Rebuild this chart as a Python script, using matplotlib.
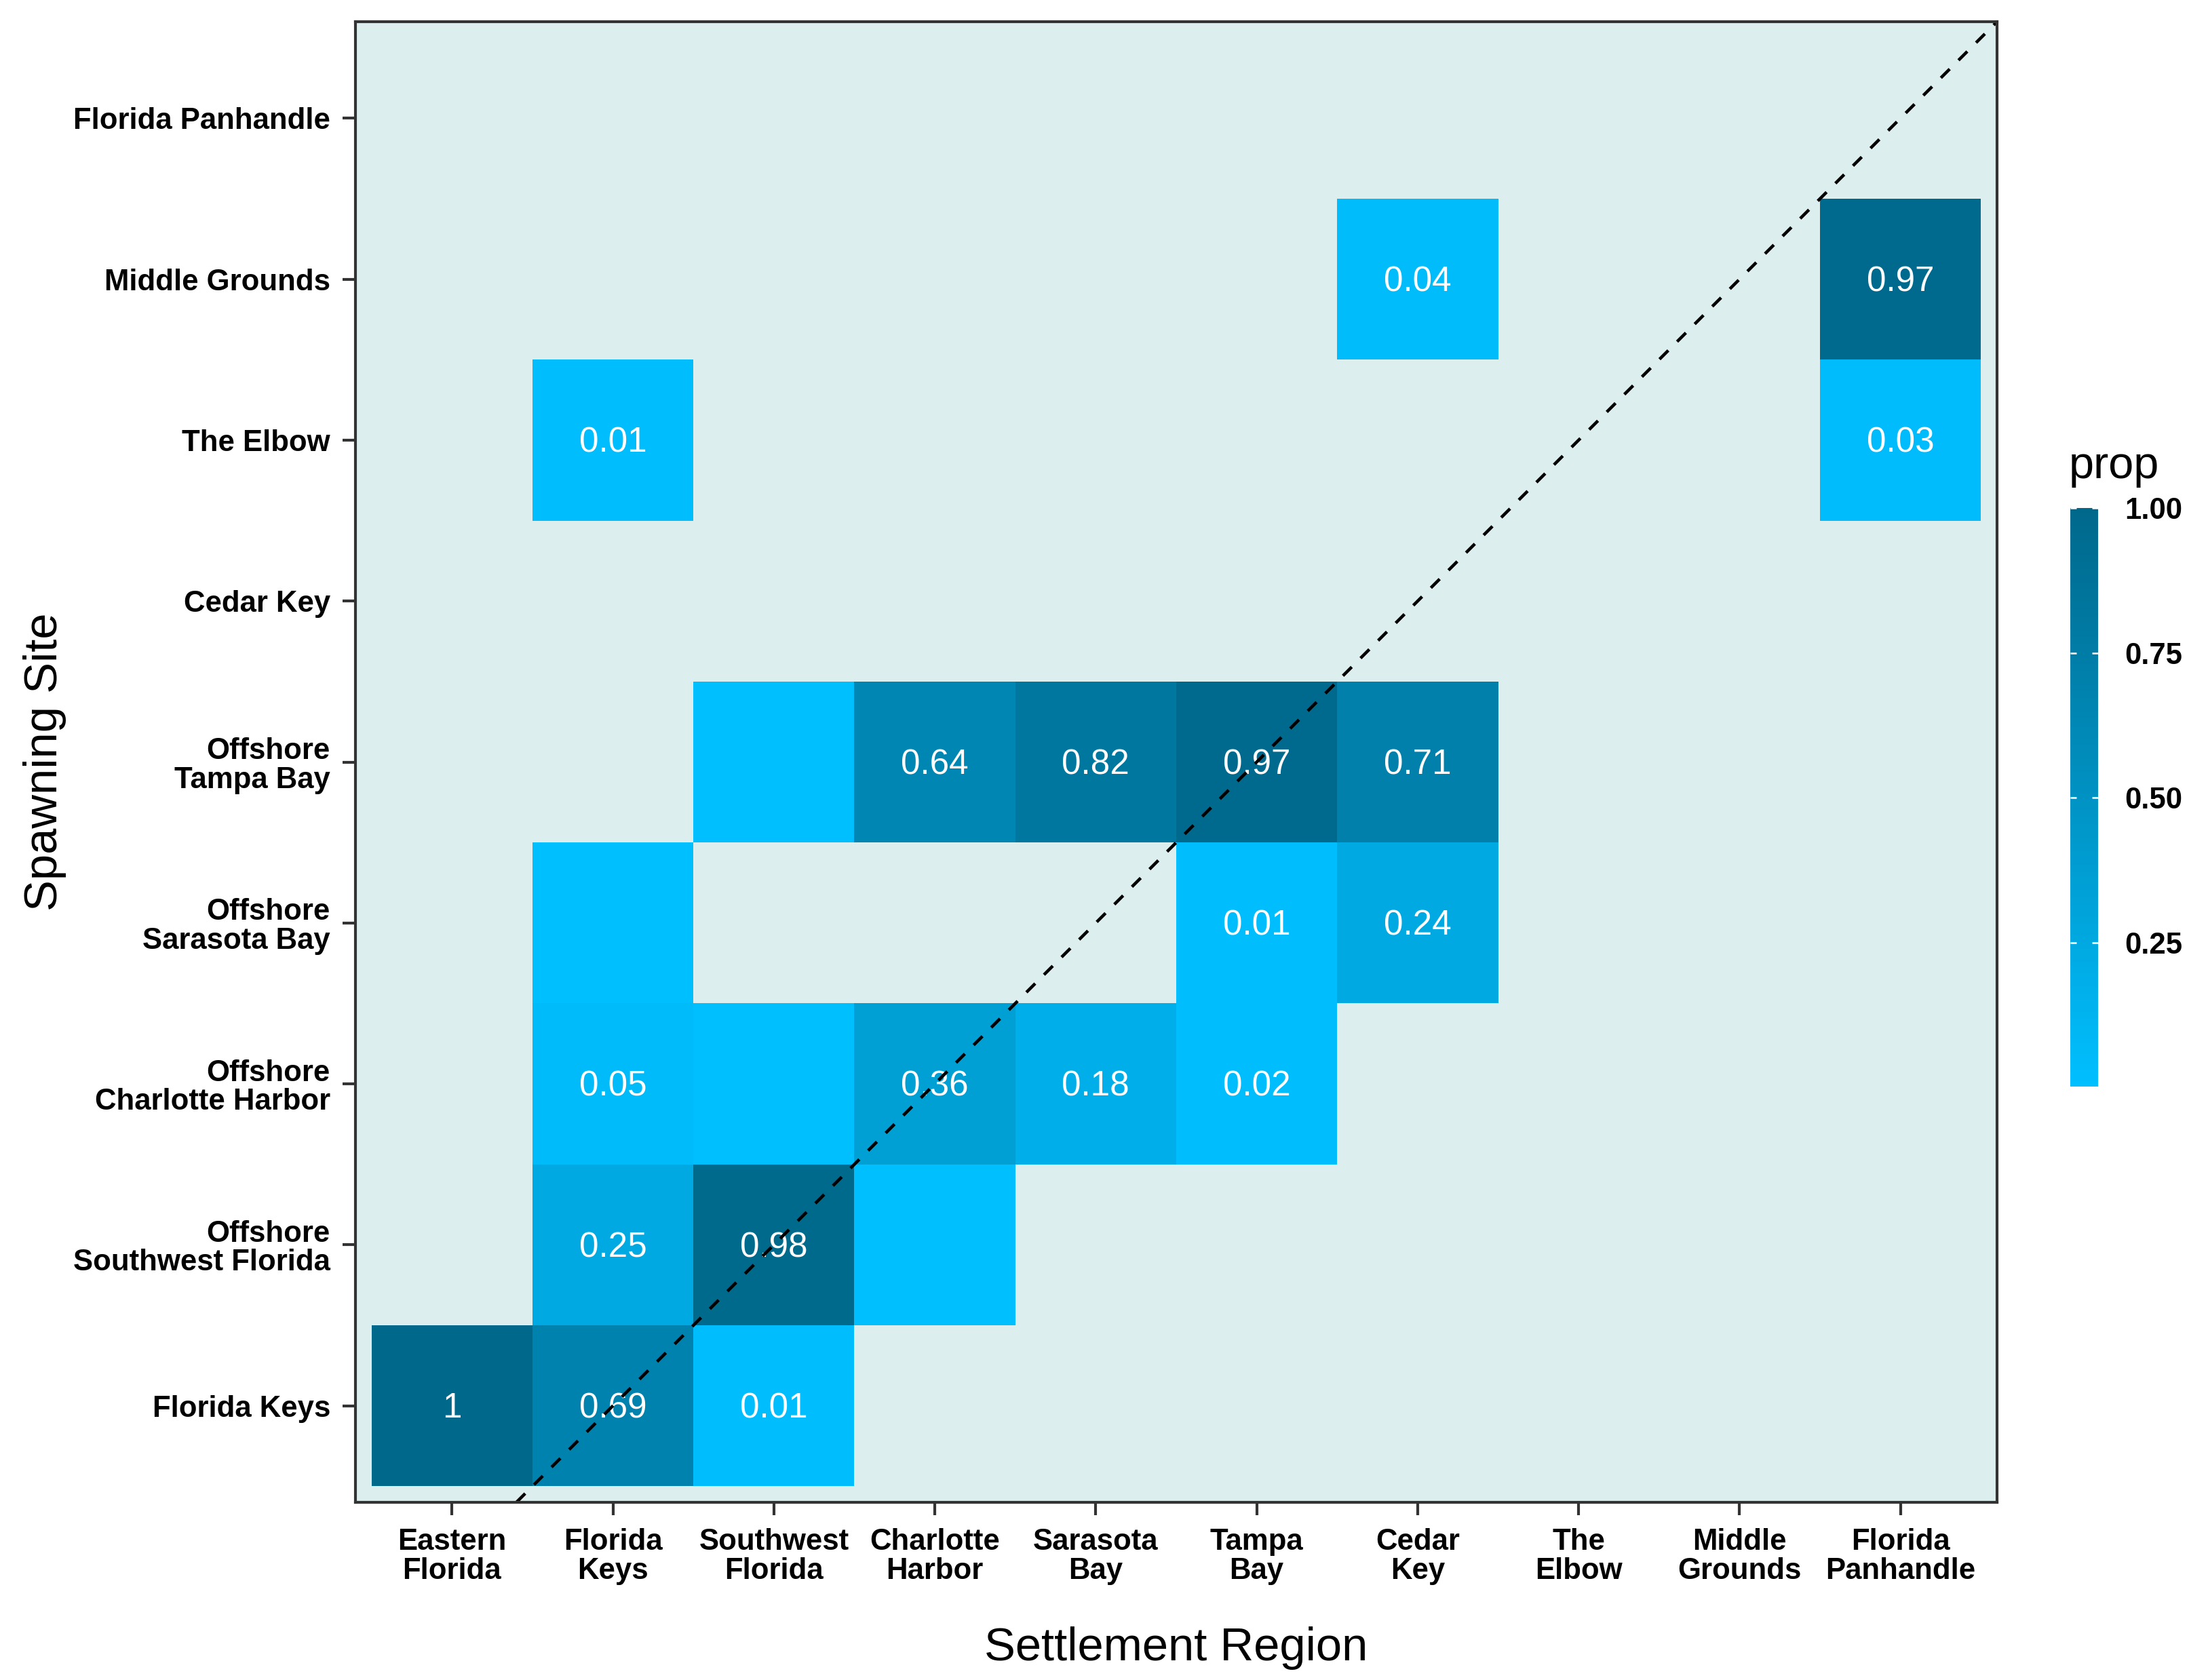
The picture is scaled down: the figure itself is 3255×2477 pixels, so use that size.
import numpy as np
import matplotlib
matplotlib.use("Agg")
import matplotlib.pyplot as plt
from matplotlib.colors import ListedColormap, Normalize

# ---------------- data ----------------
settlement_regions = ["Eastern\nFlorida", "Florida\nKeys", "Southwest\nFlorida", "Charlotte\nHarbor",
                      "Sarasota\nBay", "Tampa\nBay", "Cedar\nKey", "The\nElbow", "Middle\nGrounds",
                      "Florida\nPanhandle"]
spawning_sites = ["Florida Keys", "Offshore\nSouthwest Florida", "Offshore\nCharlotte Harbor",
                  "Offshore\nSarasota Bay", "Offshore\nTampa Bay", "Cedar Key", "The Elbow",
                  "Middle Grounds", "Florida Panhandle"]

cell_site = ["Florida Keys", "Florida Keys", "Florida Keys",
             "Offshore\nSouthwest Florida", "Offshore\nSouthwest Florida", "Offshore\nSouthwest Florida",
             "Offshore\nCharlotte Harbor", "Offshore\nCharlotte Harbor", "Offshore\nCharlotte Harbor",
             "Offshore\nCharlotte Harbor", "Offshore\nCharlotte Harbor",
             "Offshore\nSarasota Bay", "Offshore\nSarasota Bay", "Offshore\nSarasota Bay",
             "Offshore\nTampa Bay", "Offshore\nTampa Bay", "Offshore\nTampa Bay",
             "Offshore\nTampa Bay", "Offshore\nTampa Bay",
             "The Elbow", "The Elbow",
             "Middle Grounds", "Middle Grounds"]
cell_region = ["Eastern\nFlorida", "Florida\nKeys", "Southwest\nFlorida",
               "Florida\nKeys", "Southwest\nFlorida", "Charlotte\nHarbor",
               "Florida\nKeys", "Southwest\nFlorida", "Charlotte\nHarbor", "Sarasota\nBay", "Tampa\nBay",
               "Florida\nKeys", "Tampa\nBay", "Cedar\nKey",
               "Southwest\nFlorida", "Charlotte\nHarbor", "Sarasota\nBay", "Tampa\nBay", "Cedar\nKey",
               "Florida\nKeys", "Florida\nPanhandle",
               "Cedar\nKey", "Florida\nPanhandle"]
cell_prop = [1.00, 0.69, 0.01,
             0.25, 0.98, 0.002,
             0.05, 0.002, 0.36, 0.18, 0.02,
             0.002, 0.01, 0.24,
             0.002, 0.64, 0.82, 0.97, 0.71,
             0.01, 0.03,
             0.04, 0.97]

# ---------------- colour scale (Lab interpolation like ggplot) ----------------
def _srgb_to_lin(c):
    return np.where(c <= 0.04045, c / 12.92, ((c + 0.055) / 1.055) ** 2.4)

def _lin_to_srgb(c):
    c = np.clip(c, 0, 1)
    return np.where(c <= 0.0031308, 12.92 * c, 1.055 * c ** (1 / 2.4) - 0.055)

M = np.array([[0.4124564, 0.3575761, 0.1804375],
              [0.2126729, 0.7151522, 0.0721750],
              [0.0193339, 0.1191920, 0.9503041]])
Minv = np.linalg.inv(M)
WP = np.array([0.95047, 1.0, 1.08883])

def rgb_to_lab(rgb):
    xyz = M @ _srgb_to_lin(np.asarray(rgb, float)) / WP
    f = np.where(xyz > 216 / 24389, np.cbrt(xyz), (24389 / 27 * xyz + 16) / 116)
    return np.array([116 * f[1] - 16, 500 * (f[0] - f[1]), 200 * (f[1] - f[2])])

def lab_to_rgb(lab):
    L, a, b = lab
    fy = (L + 16) / 116
    fx = fy + a / 500
    fz = fy - b / 200
    f = np.array([fx, fy, fz])
    xyz = np.where(f ** 3 > 216 / 24389, f ** 3, (116 * f - 16) / (24389 / 27)) * WP
    return _lin_to_srgb(Minv @ xyz)

low = np.array([0, 191, 255]) / 255.0
high = np.array([0, 104, 139]) / 255.0
lab_lo, lab_hi = rgb_to_lab(low), rgb_to_lab(high)
cols = [lab_to_rgb(lab_lo + t * (lab_hi - lab_lo)) for t in np.linspace(0, 1, 256)]
cmap = ListedColormap(cols)

# ---------------- build matrix ----------------
nx, ny = len(settlement_regions), len(spawning_sites)
Z = np.full((ny, nx), np.nan)
for s, r, p in zip(cell_site, cell_region, cell_prop):
    Z[spawning_sites.index(s), settlement_regions.index(r)] = p
Zm = np.ma.masked_invalid(Z)
norm = Normalize(vmin=min(cell_prop), vmax=max(cell_prop))

# ---------------- figure ----------------
W, H = 3255, 2477
DPI = 300
fig = plt.figure(figsize=(W / DPI, H / DPI), dpi=DPI)
FONT = "Liberation Sans"
plt.rcParams["font.family"] = [FONT, "DejaVu Sans"]

PL, PR, PT, PB = 524, 2944, 32, 2215
ax = fig.add_axes([PL / W, 1 - PB / H, (PR - PL) / W, (PB - PT) / H])
ax.set_facecolor("#DDEEEE")

xe = np.arange(nx + 1) + 0.5
ye = np.arange(ny + 1) + 0.5
mesh = ax.pcolormesh(xe, ye, Zm, cmap=cmap, norm=norm, shading="flat",
                     edgecolors="none", antialiased=False, zorder=1)

for s, r, p in zip(cell_site, cell_region, cell_prop):
    v = round(p, 2)
    if v > 0:
        ax.annotate(f"{v:g}", (settlement_regions.index(r) + 1, spawning_sites.index(s) + 1),
                    xytext=(0, -1.0), textcoords="offset points",
                    ha="center", va="center", color="white", fontsize=12.3, family=FONT, zorder=3)

ax.axline((0, -1), slope=1, color="black", lw=1.1, linestyle=(0, (4, 4)), zorder=4)

ax.set_xlim(0.4, nx + 0.6)
ax.set_ylim(0.4, ny + 0.6)
ax.set_xticks(np.arange(1, nx + 1))
ax.set_yticks(np.arange(1, ny + 1))
ax.set_xticklabels(settlement_regions, fontsize=10.5, fontweight="bold", family=FONT,
                   linespacing=1.05, color="black")
ax.set_yticklabels(spawning_sites, fontsize=10.5, fontweight="bold", family=FONT,
                   linespacing=1.05, color="black")
ax.tick_params(axis="both", length=4.6, width=1.0, color="#333333", direction="out")
ax.tick_params(axis="x", pad=4.5)
ax.tick_params(axis="y", pad=4.3)
for sp in ax.spines.values():
    sp.set_color("#333333")
    sp.set_linewidth(1.0)
    sp.set_zorder(5)

ax.set_xlabel("Settlement Region", fontsize=16.5, family=FONT)
ax.set_ylabel("Spawning Site", fontsize=16.5, family=FONT)
ax.xaxis.set_label_coords(0.5, (PB - 2430) / (PB - PT), transform=ax.transAxes)
ax.xaxis.label.set_va("center")
ax.yaxis.set_label_coords((66 - PL) / (PR - PL), 0.5, transform=ax.transAxes)
ax.yaxis.label.set_va("center")

# ---------------- colour bar ----------------
cax = fig.add_axes([3052 / W, 1 - 1602 / H, 41 / W, 853 / H])
cb = fig.colorbar(mesh, cax=cax, ticks=[0.25, 0.5, 0.75, 1.0])
cb.outline.set_visible(False)
cb.ax.set_yticklabels(["0.25", "0.50", "0.75", "1.00"], fontsize=10.5, fontweight="bold", family=FONT)
cb.ax.yaxis.set_ticks_position("both")
cb.ax.tick_params(direction="in", color="white", length=2.2, width=0.6, pad=9.5,
                  labelleft=False, labelright=True)
fig.text(3050 / W, 1 - 705 / H, "prop", fontsize=16, family=FONT, ha="left", va="baseline")

fig.savefig("out.png", dpi=DPI, facecolor="white")
